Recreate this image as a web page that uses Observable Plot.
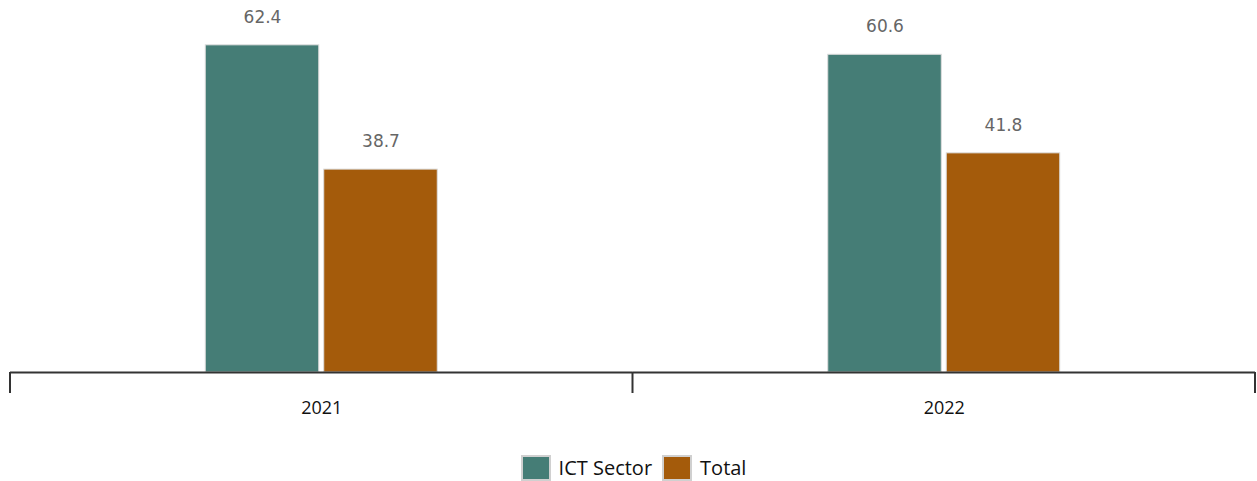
<!DOCTYPE html>
<html>
<head>
<meta charset="utf-8">
<script src="https://cdn.jsdelivr.net/npm/d3@7"></script>
<script src="https://cdn.jsdelivr.net/npm/@observablehq/plot@0.6"></script>
<style>
  html, body { margin: 0; padding: 0; background: #fff; }
  body { width: 1257px; font-family: "Open Sans", sans-serif; }
  #legend { display: flex; justify-content: center; align-items: center; padding-top: 15px; padding-left: 10px; font-size: 20px; color: #111; line-height: 26px; }
  .item { display: flex; align-items: center; margin: 0 10px 0 0; }
  .item:last-child { margin-right: 0; }
  .sw { width: 26px; height: 22px; border: 2px solid #d0d0d0; box-sizing: content-box; margin-right: 8px; }
</style>
</head>
<body>
<div id="chart"></div>
<div id="legend"></div>
<script>
const years = ["2021", "2022"];
const seriesNames = ["ICT Sector", "Total"];
const ictValues = [62.4, 60.6];
const totalValues = [38.7, 41.8];
const colors = ["#457d76", "#a45b0b"];

const data = [];
years.forEach((yr, i) => {
  data.push({year: yr, series: seriesNames[0], value: ictValues[i]});
  data.push({year: yr, series: seriesNames[1], value: totalValues[i]});
});

const plot = Plot.plot({
  width: 1257,
  height: 440,
  marginLeft: 10,
  marginRight: 2,
  marginTop: 5,
  marginBottom: 68,
  style: {fontFamily: "Open Sans, sans-serif", fontSize: "17px", background: "#fff"},
  fx: {domain: years, padding: 0, label: null, round: false},
  x: {domain: seriesNames, paddingInner: 0.042, paddingOuter: 1.648, round: false, axis: null},
  y: {domain: [0, 70], axis: null},
  color: {domain: seriesNames, range: colors},
  marks: [
    Plot.barY(data, {fx: "year", x: "series", y: "value", fill: "series", stroke: "#dcdcdc", strokeWidth: 1}),
    Plot.text(data, {fx: "year", x: "series", y: "value", text: d => d.value.toFixed(1), dy: -28, fill: "#666", fontSize: 17, fontFamily: "DejaVu Sans"}),
    Plot.ruleY([0], {stroke: "#333", strokeWidth: 2}),
    Plot.axisFx({anchor: "bottom", tickSize: 0, tickPadding: 29, fontSize: 18, fill: "#111", label: null})
  ]
});

document.getElementById("chart").appendChild(plot);

// boundary ticks between year groups, from the library's fx scale
const fx = plot.scale("fx");
const y = plot.scale("y");
const y0 = y.apply(0);
const bounds = years.map(v => fx.apply(v));
bounds.push(fx.apply(years[years.length - 1]) + fx.step);
const svg = d3.select(plot);
svg.append("g").selectAll("line").data(bounds).join("line")
  .attr("x1", d => d).attr("x2", d => d)
  .attr("y1", y0).attr("y2", y0 + 21)
  .attr("stroke", "#333").attr("stroke-width", 2);

const legend = d3.select("#legend");
seriesNames.forEach((s, i) => {
  const it = legend.append("div").attr("class", "item");
  it.append("div").attr("class", "sw").style("background", colors[i]);
  it.append("span").text(s);
});
</script>
</body>
</html>
